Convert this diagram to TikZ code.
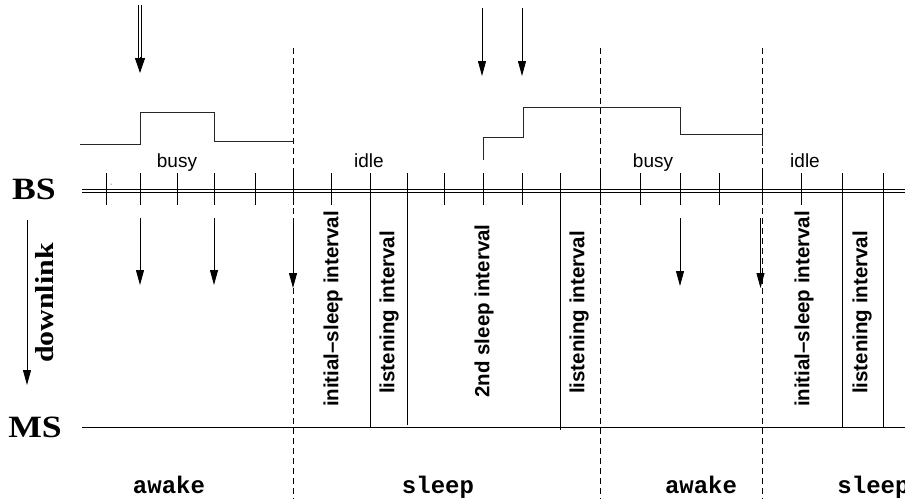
\documentclass[tikz,border=0pt]{standalone}
\usepackage{fontspec}
\newfontfamily\helv{Liberation Sans}
\newfontfamily\cour{Liberation Mono}
\newfontfamily\cmb{Liberation Serif}[FakeStretch=1.15]
\usetikzlibrary{arrows.meta}
\begin{document}
\begin{tikzpicture}[x=1pt,y=-1pt,line width=0.9pt,
  tipline/.style={-{Triangle[width=8pt,length=15pt]}},
  dashline/.style={dash pattern=on 6pt off 4pt},
  tickline/.style={line width=0.9pt},
  axisline/.style={double,double distance=2pt,line width=0.75pt},
  wave/.style={line width=0.9pt,black!85},
  statelbl/.style={font=\helv\fontsize{19}{19}\selectfont,anchor=base,inner sep=0pt},
  intlbl/.style={font=\helv\bfseries\fontsize{20.5}{20.5}\selectfont,rotate=90,inner sep=0pt},
  modelbl/.style={font=\cour\bfseries\fontsize{24}{24}\selectfont,anchor=base,inner sep=0pt},
  stationlbl/.style={font=\cmb\bfseries\fontsize{31}{31}\selectfont,anchor=base,inner sep=0pt}]
\useasboundingbox (0,0) rectangle (905,499);
\clip (0,0) rectangle (905,499);

% station labels
\node[stationlbl] (bs) at (34,199) {BS};
\node[stationlbl] (ms) at (35,437) {MS};
\node[font=\cmb\bfseries\fontsize{26}{26}\selectfont,rotate=90,anchor=base,inner sep=0pt] (dl) at (53,303) {downlink};

% axes
\coordinate (bsL) at (82,191);
\coordinate (bsR) at (906,191);
\coordinate (msL) at (82,428.5);
\coordinate (msR) at (906,428.5);
\draw[axisline] (bsL) -- (bsR);
\draw[axisline] (msL) -- (msR);

% dashed separators
\foreach \x/\n in {293/a,600/b,762/c}{
  \coordinate (d\n1) at (\x,48);
  \coordinate (d\n2) at (\x,499);
  \draw[dashline] (d\n1) -- (d\n2);
}

% ticks
\foreach \x in {106,140,177,214,255,293,331,370,407,444,483,522,560,600,640,680,719,762,801,842,883}
  \draw[tickline] (\x,173) -- (\x,205);
% long interval boundaries
\foreach \x/\e in {370/428,407/425,560/430,842/428,883/428}
  \draw[tickline] (\x,205) -- (\x,\e);

\fill (111,184) circle (0.5pt);

% waveforms
\draw[wave] (80,144) -- (140,144) -- (140,112) -- (214,112) -- (214,141) -- (293,141);
\draw[wave] (483,160) -- (483,137) -- (523,137) -- (523,107) -- (680,107) -- (680,134) -- (762,134) -- (762,146);

% top arrows
\coordinate (t1a) at (138.8,5); \coordinate (t1b) at (138.8,62);
\coordinate (t2a) at (141.2,5); \coordinate (t2b) at (141.2,62);
\draw[line width=0.8pt] (t1a) -- (t1b);
\draw[line width=0.8pt] (t2a) -- (t2b);
\coordinate (t3a) at (140,57); \coordinate (t3b) at (140,73);
\draw[-{Triangle[width=10pt,length=15pt]}] (t3a) -- (t3b);
\foreach \x/\n in {482/a,522/b}{
  \coordinate (ta\n) at (\x,8);
  \coordinate (tb\n) at (\x,76);
  \draw[tipline] (ta\n) -- (tb\n);
}

% downlink arrows
\foreach \x/\e/\n in {140/285/a,214/285/b,293/288/c,680/286/d,760.5/288/e}{
  \coordinate (da\n) at (\x,218);
  \coordinate (db\n) at (\x,\e);
  \draw[tipline] (da\n) -- (db\n);
}
\coordinate (dl1) at (27,220);
\coordinate (dl2) at (27,385);
\draw[tipline] (dl1) -- (dl2);

% state labels
\node[statelbl] (busy1) at (177,167) {busy};
\node[statelbl] (idle1) at (369,167) {idle};
\node[statelbl] (busy2) at (653,167) {busy};
\node[statelbl] (idle2) at (805,167) {idle};

% interval labels
\node[intlbl] (i1) at (333,309) {initial–sleep interval};
\node[intlbl] (l1) at (389,312.5) {listening interval};
\node[intlbl] (s2) at (484,311) {2nd sleep interval};
\node[intlbl] (l2) at (579,312.5) {listening interval};
\node[intlbl] (i2) at (804,309) {initial–sleep interval};
\node[intlbl] (l3) at (862,312.5) {listening interval};

% mode labels
\node[modelbl] (aw1) at (169,493) {awake};
\node[modelbl] (sl1) at (438,493) {sleep};
\node[modelbl] (aw2) at (701,493) {awake};
\node[modelbl,anchor=base west] (sl2) at (837,493) {sleep};
\end{tikzpicture}
\end{document}
